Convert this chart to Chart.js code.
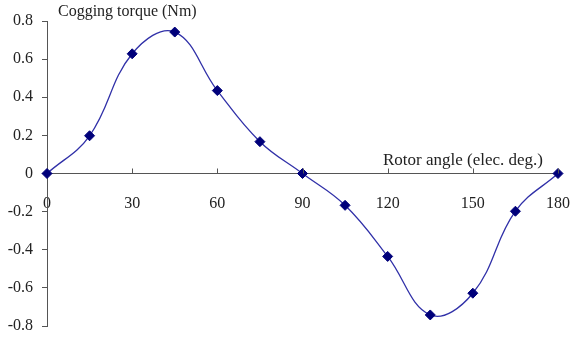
<!DOCTYPE html>
<html>
<head>
<meta charset="utf-8">
<script src="https://cdn.jsdelivr.net/npm/chart.js@4"></script>
<style>
  html, body { margin: 0; padding: 0; background: #fff; }
  #wrap { width: 572px; height: 339px; }
</style>
</head>
<body>
<div id="wrap"><canvas id="torqueChart" width="572" height="339"></canvas></div>
<script>
// ===== Cogging torque vs rotor angle =====
const angles = [0, 15, 30, 45, 60, 75, 90, 105, 120, 135, 150, 165, 180]
const torque = [0, 0.198, 0.628, 0.742, 0.435, 0.167, 0, -0.167, -0.435, -0.742, -0.628, -0.198, 0]
const xTicks = [0, 30, 60, 90, 120, 150, 180]
const yTitle = 'Cogging torque (Nm)'
const xTitle = 'Rotor angle (elec. deg.)'

const axisColor = '#555'
const textColor = '#222'
const serif = '"Liberation Serif", "Times New Roman", serif'

// x ticks point upward from the zero line, titles sit inside the plot
const axisExtras = {
  id: 'axisExtras',
  afterDraw(chart) {
    const { ctx, scales: { x, y }, chartArea } = chart
    const y0 = y.getPixelForValue(0)
    ctx.save()
    ctx.strokeStyle = axisColor
    ctx.lineWidth = 1
    xTicks.forEach(v => {
      if (v === 0) return
      const px = Math.round(x.getPixelForValue(v)) + 0.5
      ctx.beginPath()
      ctx.moveTo(px, y0)
      ctx.lineTo(px, y0 - 5)
      ctx.stroke()
    })
    ctx.fillStyle = textColor
    ctx.textBaseline = 'middle'
    ctx.font = '16px ' + serif
    ctx.textAlign = 'left'
    ctx.fillText(yTitle, chartArea.left + 11, 12)
    ctx.font = '17px ' + serif
    ctx.textAlign = 'right'
    ctx.fillText(xTitle, chartArea.right - 15, y0 - 13)
    ctx.restore()
  }
}

new Chart(document.getElementById('torqueChart').getContext('2d'), {
  type: 'line',
  data: {
    datasets: [{
      data: angles.map((a, i) => ({ x: a, y: torque[i] })),
      borderColor: '#3030a8',
      borderWidth: 1.3,
      tension: 0.4,
      pointStyle: 'rectRot',
      pointRadius: 5,
      pointBackgroundColor: '#00007a',
      pointBorderColor: '#00007a',
      pointBorderWidth: 1,
      clip: false
    }]
  },
  options: {
    responsive: false,
    animation: false,
    layout: { autoPadding: false, padding: { left: 0, top: 21, right: 14, bottom: 13 } },
    plugins: { legend: { display: false }, tooltip: { enabled: false } },
    scales: {
      x: {
        type: 'linear',
        min: 0,
        max: 180,
        position: { y: 0 },
        afterBuildTicks: scale => { scale.ticks = xTicks.map(v => ({ value: v })) },
        afterFit: scale => { scale.paddingLeft = 0; scale.paddingRight = 0; scale.height = 0 },
        ticks: { color: textColor, font: { family: serif, size: 16 }, padding: 21, maxRotation: 0 },
        grid: { display: false, drawTicks: false },
        border: { color: axisColor, width: 1 }
      },
      y: {
        min: -0.8,
        max: 0.8,
        afterFit: scale => { scale.width = 47; scale.paddingTop = 0; scale.paddingBottom = 0 },
        ticks: {
          stepSize: 0.2,
          color: textColor,
          font: { family: serif, size: 16 },
          padding: 9,
          callback: v => Math.abs(v) < 1e-9 ? '0' : v.toFixed(1)
        },
        grid: { drawOnChartArea: false, tickLength: 5, color: axisColor },
        border: { color: axisColor, width: 1 }
      }
    }
  },
  plugins: [axisExtras]
})
</script>
</body>
</html>
